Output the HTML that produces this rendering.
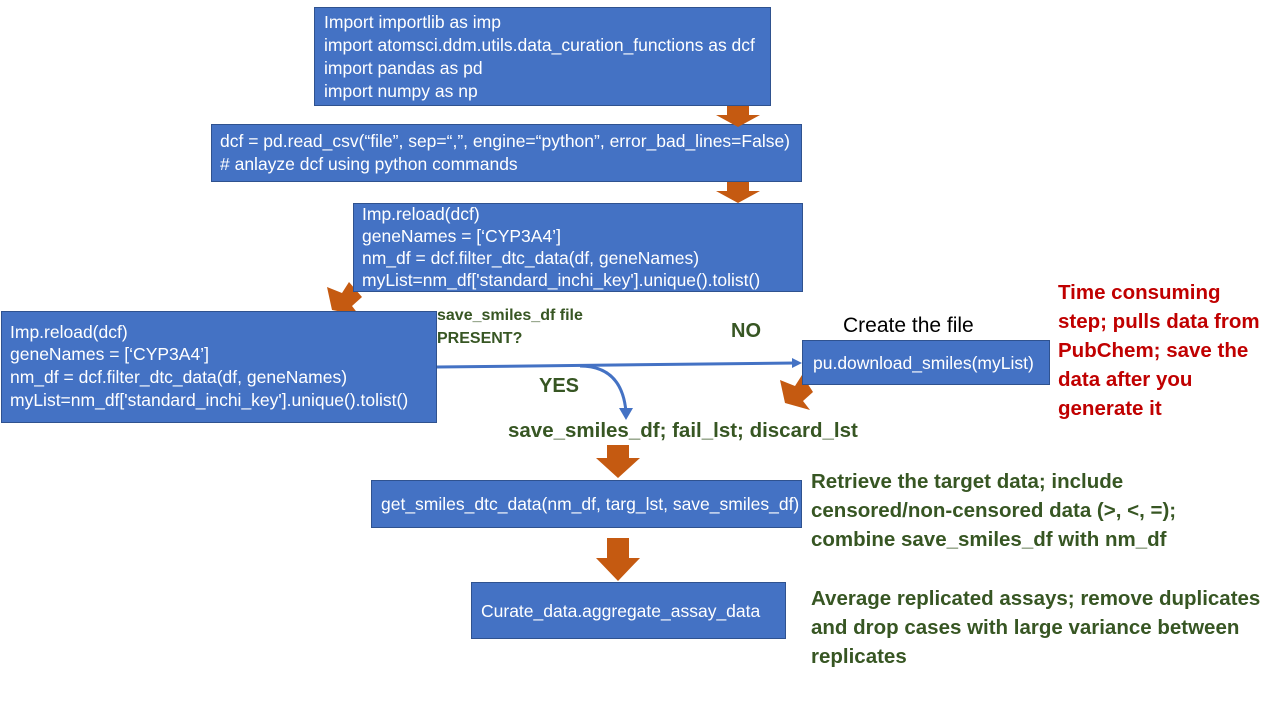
<!DOCTYPE html>
<html><head><meta charset="utf-8"><style>
body{margin:0;width:1280px;height:720px;background:#fff;overflow:hidden}
svg{font-family:"Liberation Sans",sans-serif}
.b{fill:#4472C4;stroke:#2F528F;stroke-width:1}
.t{fill:#fff;font-size:17.5px}
.g{fill:#375623;font-weight:bold}
.o{fill:#C55A11}
</style></head><body>
<svg width="1280" height="720" viewBox="0 0 1280 720">
<polygon class="o" points="327,287 342,293 349,282 362,297 352,306 359,315 332,310"/>
<rect class="b" x="314.5" y="7.5" width="456" height="98"/>
<text class="t" x="324" y="28">Import importlib as imp</text>
<text class="t" x="324" y="51">import atomsci.ddm.utils.data_curation_functions as dcf</text>
<text class="t" x="324" y="74">import pandas as pd</text>
<text class="t" x="324" y="97">import numpy as np</text>

<rect class="b" x="211.5" y="124.5" width="590" height="57"/>
<text class="t" x="220" y="147">dcf = pd.read_csv(“file”, sep=“,”, engine=“python”, error_bad_lines=False)</text>
<text class="t" x="220" y="170"># anlayze dcf using python commands</text>

<rect class="b" x="353.5" y="203.5" width="449" height="88"/>
<text class="t" x="362" y="220">Imp.reload(dcf)</text>
<text class="t" x="362" y="242">geneNames = [‘CYP3A4’]</text>
<text class="t" x="362" y="264">nm_df = dcf.filter_dtc_data(df, geneNames)</text>
<text class="t" x="362" y="286">myList=nm_df['standard_inchi_key'].unique().tolist()</text>

<rect class="b" x="1.5" y="311.5" width="435" height="111"/>
<text class="t" x="10" y="338">Imp.reload(dcf)</text>
<text class="t" x="10" y="360">geneNames = [‘CYP3A4’]</text>
<text class="t" x="10" y="383">nm_df = dcf.filter_dtc_data(df, geneNames)</text>
<text class="t" x="10" y="406">myList=nm_df['standard_inchi_key'].unique().tolist()</text>

<polygon class="o" points="780,380 795,386 802,375 813,392 803,401 810,410 785,403"/>
<rect class="b" x="802.5" y="340.5" width="247" height="44"/>
<text class="t" x="813" y="369">pu.download_smiles(myList)</text>

<rect class="b" x="371.5" y="480.5" width="430" height="47"/>
<text class="t" x="381" y="510">get_smiles_dtc_data(nm_df, targ_lst, save_smiles_df)</text>

<rect class="b" x="471.5" y="582.5" width="314" height="56"/>
<text class="t" x="481" y="617">Curate_data.aggregate_assay_data</text>

<polygon class="o" points="727,106 749,106 749,115 760,115 738,127 716,115 727,115"/>
<polygon class="o" points="727,182 749,182 749,191 760,191 738,203 716,191 727,191"/>
<polygon class="o" points="607,445 629,445 629,458 640,458 618,478 596,458 607,458"/>
<polygon class="o" points="607,538 629,538 629,558 640,558 618,581 596,558 607,558"/>

<path d="M437 367 L795 363" stroke="#4472C4" stroke-width="3" fill="none"/>
<polygon points="802,363 792,358 792,368" fill="#4472C4"/>
<path d="M580 366 Q622 366 626 412" stroke="#4472C4" stroke-width="3" fill="none"/>
<polygon points="626,420 619,408 633,408" fill="#4472C4"/>

<text class="g" x="437" y="320" font-size="16">save_smiles_df file</text>
<text class="g" x="437" y="343" font-size="16">PRESENT?</text>
<text class="g" x="731" y="337" font-size="20">NO</text>
<text class="g" x="539" y="392" font-size="20">YES</text>
<text x="843" y="332" font-size="21" fill="#000">Create the file</text>
<text class="g" x="508" y="437" font-size="20.5">save_smiles_df; fail_lst; discard_lst</text>

<g fill="#C00000" font-weight="bold" font-size="20.5">
<text x="1058" y="299">Time consuming</text>
<text x="1058" y="328">step; pulls data from</text>
<text x="1058" y="357">PubChem; save the</text>
<text x="1058" y="386">data after you</text>
<text x="1058" y="415">generate it</text>
</g>
<g class="g" font-size="20.5">
<text x="811" y="488">Retrieve the target data; include</text>
<text x="811" y="517">censored/non-censored data (&gt;, &lt;, =);</text>
<text x="811" y="546">combine save_smiles_df with nm_df</text>
<text x="811" y="605">Average replicated assays; remove duplicates</text>
<text x="811" y="634">and drop cases with large variance between</text>
<text x="811" y="663">replicates</text>
</g>
</svg>
</body></html>
